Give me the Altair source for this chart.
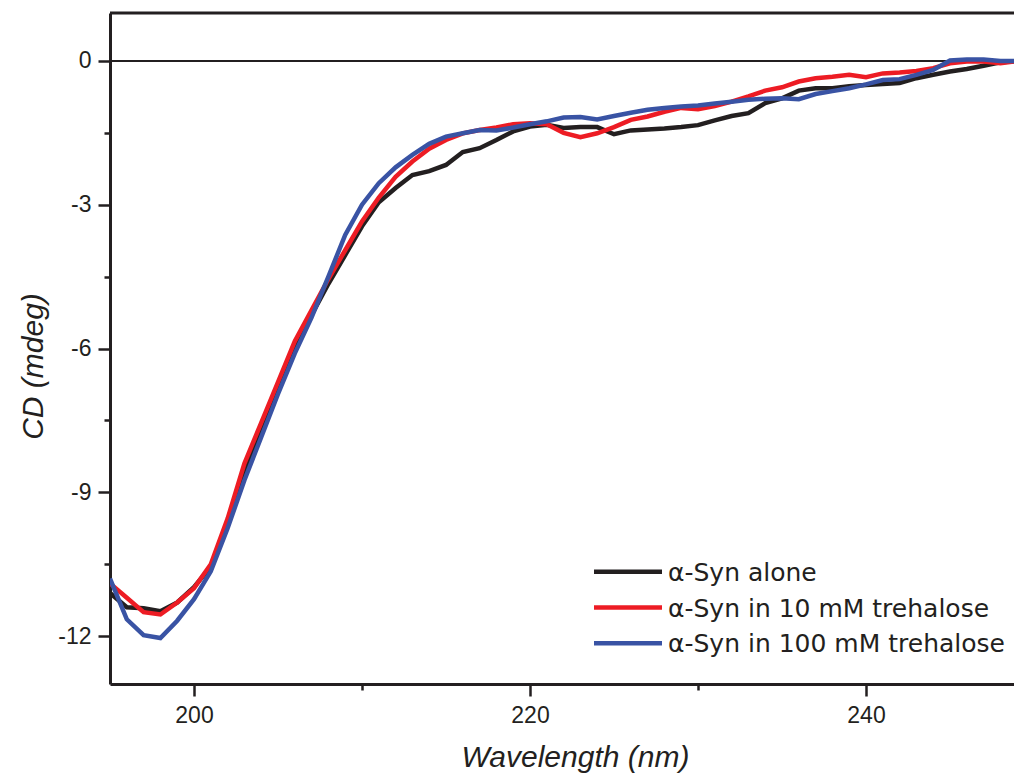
import altair as alt
import pandas as pd

wavelength = list(range(195, 251))

syn_alone = [
    -11.10, -11.40, -11.42, -11.48, -11.30, -10.98, -10.55, -9.70, -8.60, -7.70,
    -6.85, -6.00, -5.30, -4.65, -4.05, -3.45, -2.95, -2.65, -2.38, -2.30,
    -2.17, -1.90, -1.82, -1.65, -1.47, -1.37, -1.33, -1.40, -1.38, -1.38,
    -1.53, -1.45, -1.43, -1.41, -1.38, -1.34, -1.24, -1.15, -1.09, -0.88,
    -0.78, -0.62, -0.57, -0.57, -0.53, -0.50, -0.48, -0.46, -0.36, -0.29,
    -0.22, -0.17, -0.10, -0.03, 0.00, 0.00,
]

syn_tre10 = [
    -10.90, -11.20, -11.50, -11.55, -11.30, -11.00, -10.50, -9.55, -8.40, -7.55,
    -6.70, -5.85, -5.20, -4.55, -3.95, -3.35, -2.85, -2.42, -2.10, -1.83,
    -1.65, -1.51, -1.44, -1.39, -1.32, -1.30, -1.32, -1.50, -1.59, -1.51,
    -1.38, -1.23, -1.16, -1.06, -0.98, -1.01, -0.94, -0.85, -0.74, -0.62,
    -0.55, -0.43, -0.36, -0.33, -0.29, -0.34, -0.26, -0.24, -0.21, -0.15,
    -0.05, -0.01, -0.01, -0.05, 0.00, 0.00,
]

syn_tre100 = [
    -10.80, -11.65, -11.98, -12.04, -11.68, -11.23, -10.65, -9.75, -8.75, -7.85,
    -6.95, -6.10, -5.35, -4.50, -3.63, -3.00, -2.55, -2.22, -1.96, -1.73,
    -1.58, -1.51, -1.44, -1.45, -1.39, -1.32, -1.26, -1.18, -1.17, -1.22,
    -1.15, -1.08, -1.02, -0.98, -0.95, -0.93, -0.89, -0.85, -0.81, -0.79,
    -0.78, -0.80, -0.69, -0.63, -0.57, -0.49, -0.40, -0.38, -0.29, -0.19,
    0.01, 0.03, 0.03, 0.00, 0.00, 0.00,
]

series_names = ["α-Syn alone", "α-Syn in 10 mM trehalose", "α-Syn in 100 mM trehalose"]
series_colors = ["#231f20", "#ed1c24", "#3953a4"]

x_ticks = [200, 210, 220, 230, 240]
y_ticks = [0, -1.5, -3, -4.5, -6, -7.5, -9, -10.5, -12]

INK = "#231f20"
W, H = 904, 671
X_MAX = 195 + W / 16.8

rows = []
for name, vals in zip(series_names, [syn_alone, syn_tre10, syn_tre100]):
    for wl, v in zip(wavelength, vals):
        rows.append({"wl": wl, "cd": v, "series": name})
df = pd.DataFrame(rows)

x_scale = alt.Scale(domain=[195, X_MAX], nice=False, zero=False)
y_scale = alt.Scale(domain=[-13, 1], nice=False, zero=False)

x_axis = alt.Axis(
    values=x_ticks,
    labelExpr="datum.value % 20 === 0 ? toString(datum.value) : ''",
    tickSize={"condition": {"test": "datum.value % 20 === 0", "value": 12}, "value": 6},
    tickWidth=2.5, tickColor=INK,
    domainColor=INK, domainWidth=3,
    labelFont="Liberation Sans", labelFontSize=23, labelColor=INK, labelPadding=8,
    grid=False,
    title="Wavelength (nm)", titleFont="Liberation Sans", titleFontSize=30,
    titleFontStyle="italic", titleFontWeight="normal", titleColor=INK,
    titleX=465, titleY=82, titleAlign="center", titleBaseline="alphabetic", titleAnchor="start",
)

y_axis = alt.Axis(
    values=y_ticks,
    labelExpr="datum.value % 3 === 0 ? toString(datum.value) : ''",
    tickSize={"condition": {"test": "datum.value % 3 === 0", "value": 12}, "value": 6},
    tickWidth=2.5, tickColor=INK,
    domainColor=INK, domainWidth=3,
    labelFont="Liberation Sans", labelFontSize=23, labelColor=INK, labelPadding=7,
    grid=False,
    title="CD (mdeg)", titleFont="Liberation Sans", titleFontSize=30,
    titleFontStyle="italic", titleFontWeight="normal", titleColor=INK,
    titleAngle=270, titleX=-68, titleY=353, titleAlign="center", titleBaseline="alphabetic", titleAnchor="start",
)

lines = alt.Chart(df).mark_line(strokeWidth=4.5, clip=True).encode(
    x=alt.X("wl:Q", scale=x_scale, axis=x_axis),
    y=alt.Y("cd:Q", scale=y_scale, axis=y_axis),
    color=alt.Color("series:N", scale=alt.Scale(domain=series_names, range=series_colors), legend=None),
    detail="series:N",
)

zero_line = alt.Chart(pd.DataFrame({"cd": [0]})).mark_rule(color=INK, strokeWidth=2).encode(
    y=alt.Y("cd:Q", scale=y_scale)
)

one = pd.DataFrame({"k": [0]})
top_frame = alt.Chart(one).mark_rule(color=INK, strokeWidth=3).encode(
    x=alt.value(0), x2=alt.value(W), y=alt.value(0)
)

legend_layers = []
row_y0 = 558.7
row_step = 35.8
for i, (name, col) in enumerate(zip(series_names, series_colors)):
    yy = row_y0 + i * row_step
    legend_layers.append(
        alt.Chart(one).mark_rule(color=col, strokeWidth=4.5).encode(
            x=alt.value(484), x2=alt.value(552), y=alt.value(yy)
        )
    )
    legend_layers.append(
        alt.Chart(one).mark_text(
            text=name, align="left", baseline="middle", font="DejaVu Sans",
            fontSize=25, color=INK
        ).encode(x=alt.value(558), y=alt.value(yy + 1))
    )

chart = alt.layer(zero_line, lines, top_frame, *legend_layers).properties(
    width=W, height=H,
    autosize=alt.AutoSizeParams(type="none"),
    padding={"left": 102, "top": 5, "right": 0, "bottom": 90},
).configure_view(strokeWidth=0).configure(background="white")

chart.save("out.html", embed_options={"renderer": "svg", "actions": False})
